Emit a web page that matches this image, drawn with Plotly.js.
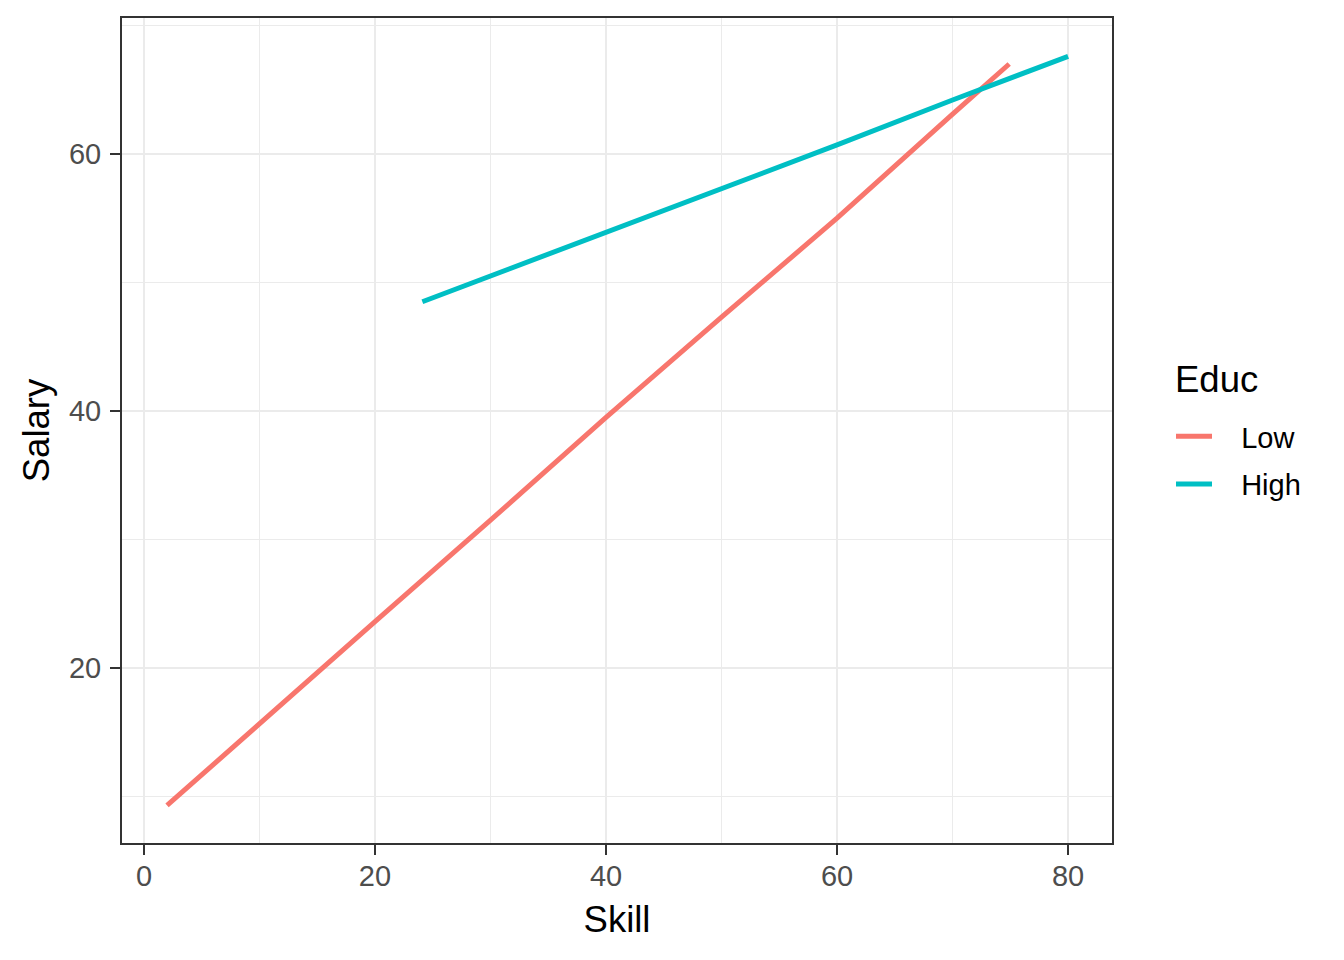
<!DOCTYPE html>
<html>
<head>
<meta charset="utf-8">
<script src="https://cdn.plot.ly/plotly-3.0.1.min.js"></script>
<style>html,body{margin:0;padding:0;background:#fff;}#chart{width:1344px;height:960px;}</style>
</head>
<body>
<div id="chart"></div>
<script>
var lowSkill = [2, 10, 20, 30, 40, 50, 60, 70, 74.9];
var lowSalary = [9.3, 15.7, 23.6, 31.5, 39.5, 47.3, 55.0, 63.1, 67.0];
var highSkill = [24.1, 30, 40, 50, 60, 70, 80];
var highSalary = [48.5, 50.5, 53.9, 57.3, 60.7, 64.2, 67.6];
var seriesNames = ['Low', 'High'];
var seriesColors = ['#F8766D', '#00BFC4'];
var legendTitle = 'Educ';
var xTicks = [0, 20, 40, 60, 80];
var yTicks = [20, 40, 60];

var pad = '\u00a0\u00a0\u00a0';
var traces = [
  {x: lowSkill, y: lowSalary, name: pad + seriesNames[0], legendgroup: 'g1', mode: 'lines', type: 'scatter',
   line: {color: seriesColors[0], width: 5}},
  {x: highSkill, y: highSalary, name: pad + seriesNames[1], legendgroup: 'g2', mode: 'lines', type: 'scatter',
   line: {color: seriesColors[1], width: 5}}
];

var fam = 'Liberation Sans, Arial, sans-serif';
var axisCommon = {
  showline: true, mirror: true, linecolor: '#333333', linewidth: 2,
  ticks: 'outside', ticklen: 10, tickwidth: 2.5, tickcolor: '#333333',
  gridcolor: '#EBEBEB', gridwidth: 2.5, zeroline: false,
  tickfont: {family: fam, size: 29, color: '#4D4D4D'},
  minor: {dtick: 10, showgrid: true, gridcolor: '#EBEBEB', gridwidth: 1, ticks: ''}
};

var layout = {
  width: 1344, height: 960,
  margin: {l: 122, r: 232, t: 18, b: 117},
  paper_bgcolor: '#ffffff', plot_bgcolor: '#ffffff',
  font: {family: fam, color: '#000000'},
  xaxis: Object.assign({}, axisCommon, {
    range: [-1.9, 83.8], tickvals: xTicks, ticktext: xTicks.map(String),
    ticklabelstandoff: -4,
    title: {text: 'Skill', font: {size: 36.5, color: '#000000'}, standoff: 16}
  }),
  yaxis: Object.assign({}, axisCommon, {
    range: [6.38, 70.58], tickvals: yTicks, ticktext: yTicks.map(String),
    ticklabelstandoff: 3,
    title: {text: 'Salary', font: {size: 36.5, color: '#000000'}, standoff: 8}
  }),
  legend: {
    xref: 'container', yref: 'container',
    x: 1171/1344, y: 1 - 411/960, xanchor: 'left', yanchor: 'top',
    font: {size: 29, color: '#000000'},
    bgcolor: 'rgba(0,0,0,0)', tracegroupgap: 7, itemwidth: 36
  },
  annotations: [{
    text: legendTitle, xref: 'paper', yref: 'paper', showarrow: false,
    x: (1173 - 122) / 990, y: (843 - 379) / 825, xanchor: 'left', yanchor: 'middle',
    font: {family: fam, size: 36.5, color: '#000000'}
  }],
  showlegend: true
};

Plotly.newPlot('chart', traces, layout, {displayModeBar: false, staticPlot: true});
</script>
</body>
</html>
